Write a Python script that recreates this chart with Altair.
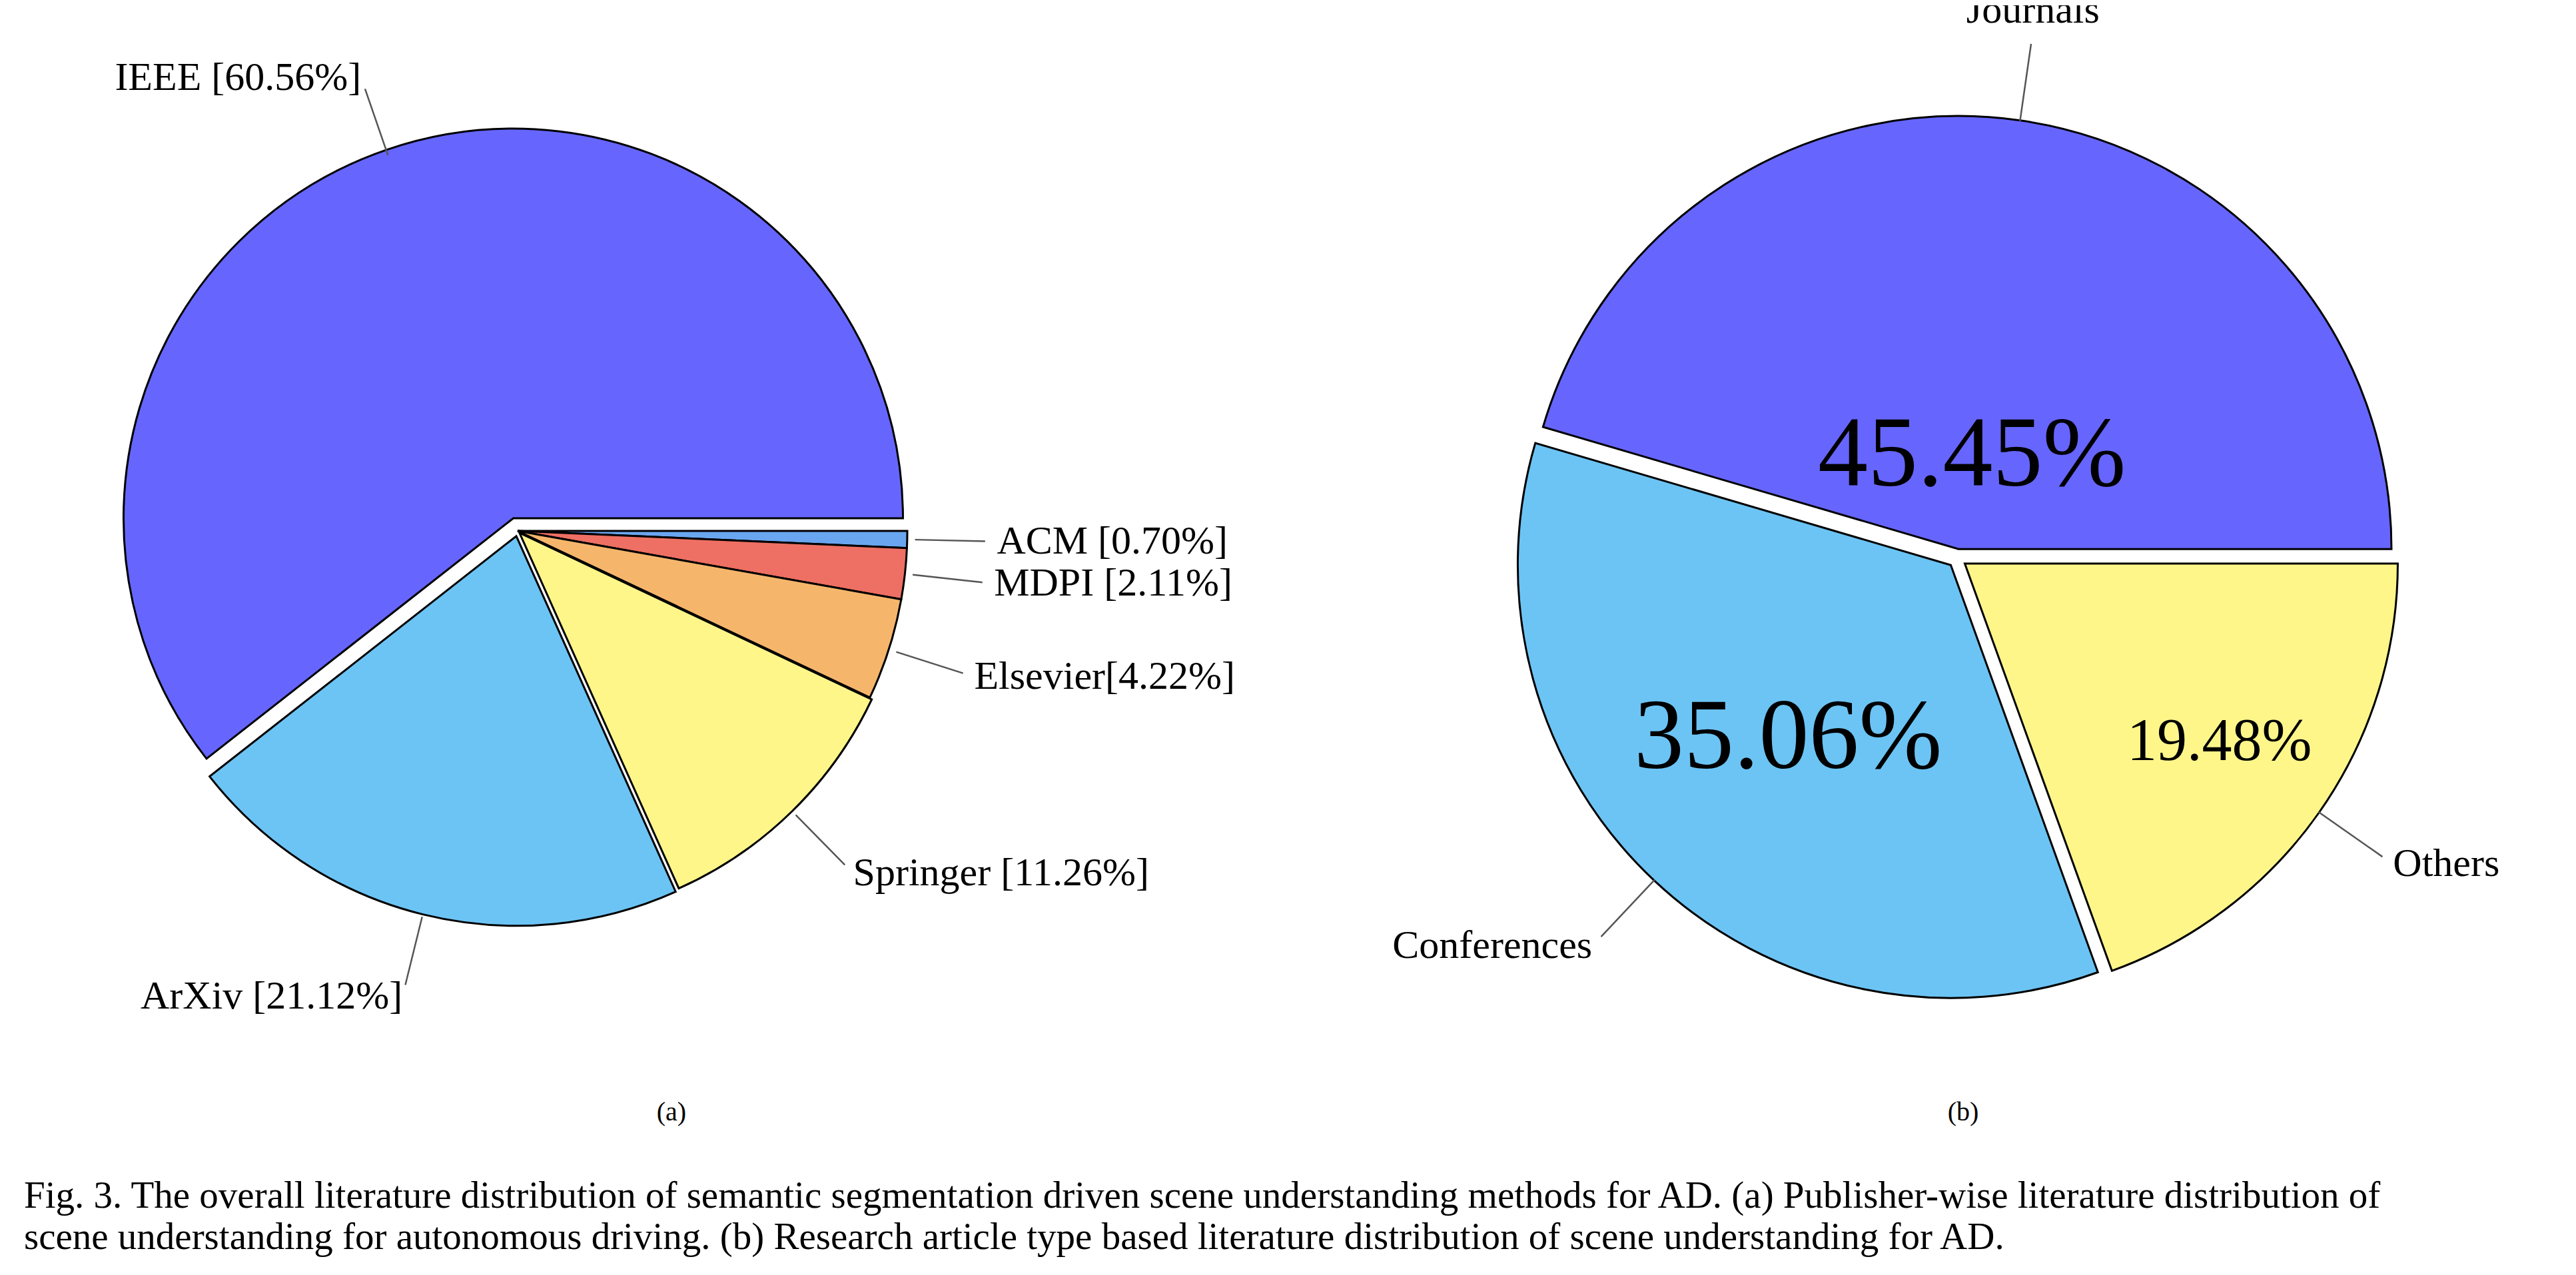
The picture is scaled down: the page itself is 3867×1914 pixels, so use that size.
import math
import altair as alt
import pandas as pd

# pie (a): publisher-wise, clockwise from 3 o'clock
pub_names = ["ACM", "MDPI", "Elsevier", "Springer", "ArXiv", "IEEE"]
pub_labels = ["ACM [0.70%]", "MDPI [2.11%]", "Elsevier[4.22%]", "Springer [11.26%]", "ArXiv [21.12%]", "IEEE [60.56%]"]
pub_values = [0.70, 2.11, 4.22, 11.26, 21.12, 60.56]
pub_colors = ["#6aa6f0", "#ee6f63", "#f5b66c", "#fff68a", "#6cc4f4", "#6666ff"]

# pie (b): article type, clockwise from 3 o'clock
typ_names = ["Others", "Conferences", "Journals"]
typ_values = [19.48, 35.06, 45.45]
typ_pct = ["19.48%", "35.06%", "45.45%"]
typ_colors = ["#fff68a", "#6cc4f4", "#6666ff"]

caption_lines = [
    "Fig. 3.    The overall literature distribution of semantic segmentation driven scene understanding methods for AD. (a) Publisher-wise literature distribution of",
    "scene understanding for autonomous driving. (b) Research article type based literature distribution of scene understanding for AD.",
]

# layout
FONT = "Liberation Serif"
W, H = 3850, 1895
pub_explode = [0, 0, 0, 4, 8, 20]
pub_side = ["left", "left", "left", "left", "right", "right"]
typ_explode = [14, 14, 14]
typ_side = ["left", "right", "center"]
typ_pct_r = [0.74, 0.57, 0.24]
typ_pct_size = [90, 150, 150]


def pie_frame(names, values, colors, explode, sides, cx, cy, r):
    total = sum(values)
    rows = []
    start = math.pi / 2
    for n, v, c, e, s in zip(names, values, colors, explode, sides):
        span = 2 * math.pi * v / total
        mid = start + span / 2
        sx, sy = math.sin(mid), -math.cos(mid)
        rows.append({
            "name": n, "color": c, "t0": start, "t1": start + span, "side": s,
            "mx": sx, "my": sy,
            "x": cx + e * sx, "y": cy + e * sy,
            "lx1": cx + r * 1.02 * sx, "ly1": cy + r * 1.02 * sy,
            "lx2": cx + r * 1.2 * sx, "ly2": cy + r * 1.2 * sy,
            "tx": cx + r * 1.23 * sx, "ty": cy + r * 1.23 * sy,
        })
        start += span
    return pd.DataFrame(rows)


def pie_layers(df, r):
    arcs = alt.Chart(df).mark_arc(radius=r, stroke="black", strokeWidth=3).encode(
        x=alt.X("x:Q", scale=None, axis=None), y=alt.Y("y:Q", scale=None, axis=None),
        theta=alt.Theta("t0:Q", scale=None), theta2="t1:Q",
        color=alt.Color("color:N", scale=None),
    )
    lines = alt.Chart(df).mark_rule(color="#555555", strokeWidth=2.5).encode(
        x=alt.X("lx1:Q", scale=None, axis=None), y=alt.Y("ly1:Q", scale=None, axis=None),
        x2="lx2:Q", y2="ly2:Q",
    )
    texts = []
    for side in ["left", "right", "center"]:
        sub = df[df["side"] == side]
        if len(sub) == 0:
            continue
        base = "bottom" if side == "center" else "middle"
        texts.append(alt.Chart(sub).mark_text(align=side, baseline=base, font=FONT, fontSize=60).encode(
            x=alt.X("tx:Q", scale=None, axis=None), y=alt.Y("ty:Q", scale=None, axis=None),
            text="label:N",
        ))
    return [arcs, lines] + texts


a = pie_frame(pub_names, pub_values, pub_colors, pub_explode, pub_side, 769, 789, 585)
a["label"] = pub_labels
b = pie_frame(typ_names, typ_values, typ_colors, typ_explode, typ_side, 2930, 830, 650)
b["label"] = typ_names
b["pct"] = typ_pct
b["px"] = 2930 + b["mx"] * 650 * pd.Series(typ_pct_r)
b["py"] = 830 + b["my"] * 650 * pd.Series(typ_pct_r)

layers = pie_layers(a, 585) + pie_layers(b, 650)
for i in range(len(b)):
    layers.append(alt.Chart(b.iloc[[i]]).mark_text(font=FONT, fontSize=typ_pct_size[i], baseline="middle").encode(
        x=alt.X("px:Q", scale=None, axis=None), y=alt.Y("py:Q", scale=None, axis=None), text="pct:N",
    ))

sub_caps = pd.DataFrame({"t": ["(a)", "(b)"], "x": [1000, 2939], "y": [1662, 1662]})
layers.append(alt.Chart(sub_caps).mark_text(font=FONT, fontSize=40, baseline="middle").encode(
    x=alt.X("x:Q", scale=None, axis=None), y=alt.Y("y:Q", scale=None, axis=None), text="t:N"))

caps = pd.DataFrame({"t": caption_lines, "x": [28, 28], "y": [1788, 1850]})
layers.append(alt.Chart(caps).mark_text(font=FONT, fontSize=57, align="left", baseline="middle").encode(
    x=alt.X("x:Q", scale=None, axis=None), y=alt.Y("y:Q", scale=None, axis=None), text="t:N"))

chart = alt.layer(*layers).properties(
    width=W, height=H, autosize="none", padding=0
).configure_view(stroke=None)

chart.save("out.html", embed_options={"renderer": "svg", "actions": False})
